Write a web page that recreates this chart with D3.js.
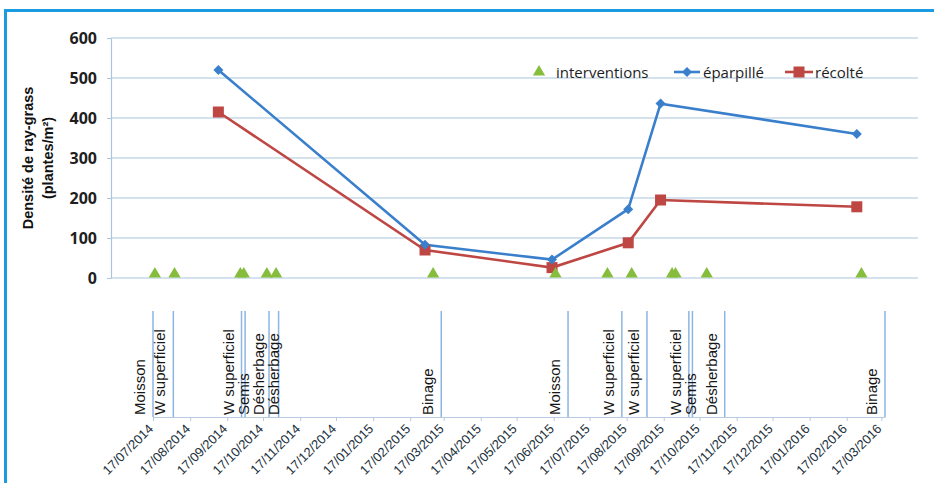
<!DOCTYPE html>
<html>
<head>
<meta charset="utf-8">
<script src="https://cdn.jsdelivr.net/npm/d3@7"></script>
<style>
  body { margin: 0; background: #fff; }
  svg { display: block; font-family: "Liberation Sans", Arial, sans-serif; }
</style>
</head>
<body>
<svg id="chart"></svg>
<script>
const parse = d3.timeParse("%d/%m/%Y");

// measured densities (plants/m2)
const sampleDates = ["10/09/2014", "08/03/2015", "26/06/2015", "31/08/2015", "28/09/2015", "16/03/2016"];
const eparpille = [520, 83, 46, 172, 436, 360];
const recolte = [415, 70, 26, 88, 195, 178];

// field interventions
const eventDates = ["17/07/2014", "03/08/2014", "29/09/2014", "02/10/2014", "22/10/2014", "30/10/2014",
  "15/03/2015", "29/06/2015", "13/08/2015", "03/09/2015", "08/10/2015", "11/10/2015", "07/11/2015", "20/03/2016"];
const eventNames = ["Moisson", "W superficiel", "W superficiel", "Semis", "Désherbage", "Désherbage",
  "Binage", "Moisson", "W superficiel", "W superficiel", "W superficiel", "Semis", "Désherbage", "Binage"];
const interventionValue = 10;

const yTicks = [0, 100, 200, 300, 400, 500, 600];
const monthLabels = ["17/07/2014", "17/08/2014", "17/09/2014", "17/10/2014", "17/11/2014", "17/12/2014",
  "17/01/2015", "17/02/2015", "17/03/2015", "17/04/2015", "17/05/2015", "17/06/2015", "17/07/2015",
  "17/08/2015", "17/09/2015", "17/10/2015", "17/11/2015", "17/12/2015", "17/01/2016", "17/02/2016", "17/03/2016"];

const width = 934, height = 483;
const svg = d3.select("#chart").attr("width", width).attr("height", height);

// outer frame
svg.append("rect")
  .attr("x", 5.5).attr("y", 10.5).attr("width", 1000).attr("height", 1000)
  .attr("fill", "none").attr("stroke", "#1b9be0").attr("stroke-width", 3);

// ---- top chart
const xTop = d3.scaleTime()
  .domain([parse("09/06/2014"), parse("08/05/2016")])
  .range([111, 918]);
const y = d3.scaleLinear().domain([0, 600]).range([278, 38]);

const gridColor = "#aac5dd";

svg.append("g")
  .selectAll("line")
  .data(yTicks)
  .join("line")
  .attr("x1", 111).attr("x2", 918)
  .attr("y1", d => y(d)).attr("y2", d => y(d))
  .attr("stroke", gridColor).attr("stroke-width", 1.2);

const yAxis = svg.append("g")
  .attr("transform", "translate(111,0)")
  .call(d3.axisLeft(y).tickValues(yTicks).tickSize(4).tickPadding(10).tickSizeOuter(0));
yAxis.select(".domain").attr("stroke", gridColor).attr("stroke-width", 1.2);
yAxis.selectAll(".tick line").attr("stroke", gridColor);
yAxis.selectAll(".tick text")
  .attr("font-family", "'Open Sans', sans-serif")
  .attr("font-size", 16).attr("font-weight", "bold").attr("fill", "#1e1e1e");

// y title
const yTitle = svg.append("text")
  .attr("transform", "translate(33,158) rotate(-90)")
  .attr("text-anchor", "middle")
  .attr("font-size", 14.5).attr("font-weight", "bold").attr("fill", "#111");
yTitle.append("tspan").attr("x", 0).attr("dy", 0).text("Densité de ray-grass");
yTitle.append("tspan").attr("x", 0).attr("dy", 20).text("(plantes/m²)");

const blue = "#3a7fcb", red = "#be4744", green = "#86bd3c";

const samples = sampleDates.map((d, i) => ({ date: parse(d), e: eparpille[i], r: recolte[i] }));

const line = key => d3.line().x(d => xTop(d.date)).y(d => y(d[key]));

svg.append("path").datum(samples)
  .attr("d", line("r")).attr("fill", "none")
  .attr("stroke", red).attr("stroke-width", 2.6);
svg.append("path").datum(samples)
  .attr("d", line("e")).attr("fill", "none")
  .attr("stroke", blue).attr("stroke-width", 2.6);

svg.append("g").selectAll("rect")
  .data(samples).join("rect")
  .attr("x", d => xTop(d.date) - 5.5).attr("y", d => y(d.r) - 5.5)
  .attr("width", 11).attr("height", 11).attr("fill", red);

const diamond = d3.symbol().type(d3.symbolDiamond2).size(64);
svg.append("g").selectAll("path")
  .data(samples).join("path")
  .attr("transform", d => `translate(${xTop(d.date)},${y(d.e)})`)
  .attr("d", diamond).attr("fill", blue);

const tri = d3.symbol().type(d3.symbolTriangle).size(65);
const events = eventDates.map((d, i) => ({ date: parse(d), name: eventNames[i] }));
svg.append("g").selectAll("path")
  .data(events).join("path")
  .attr("transform", d => `translate(${xTop(d.date)},${y(interventionValue)})`)
  .attr("d", tri).attr("fill", green);

// legend
const legend = svg.append("g")
  .attr("font-family", "'Open Sans', sans-serif")
  .attr("font-size", 15).attr("fill", "#1e1e1e");
legend.append("path").attr("transform", "translate(539,72)").attr("d", tri).attr("fill", green);
legend.append("text").attr("x", 556).attr("y", 77.5).text("interventions");
legend.append("line").attr("x1", 674).attr("x2", 700).attr("y1", 72).attr("y2", 72)
  .attr("stroke", blue).attr("stroke-width", 2.6);
legend.append("path").attr("transform", "translate(687,72)").attr("d", diamond).attr("fill", blue);
legend.append("text").attr("x", 703).attr("y", 77.5).text("éparpillé");
legend.append("line").attr("x1", 785).attr("x2", 813).attr("y1", 72).attr("y2", 72)
  .attr("stroke", red).attr("stroke-width", 2.6);
legend.append("rect").attr("x", 793.5).attr("y", 66.5).attr("width", 11).attr("height", 11).attr("fill", red);
legend.append("text").attr("x", 815).attr("y", 77.5).text("récolté");

// ---- bottom timeline
const xBot = d3.scaleTime()
  .domain([parse("17/07/2014"), parse("20/03/2016")])
  .range([153, 885]);
const base = 417, lineTop = 311;

const xAxis = svg.append("g")
  .attr("transform", `translate(0,${base})`)
  .call(d3.axisBottom(xBot)
    .tickValues(monthLabels.map(parse))
    .tickFormat(d3.timeFormat("%d/%m/%Y"))
    .tickSize(4).tickSizeOuter(0));
xAxis.select(".domain").attr("stroke", "#b6cbe0").attr("stroke-width", 1.2);
xAxis.selectAll(".tick line").attr("stroke", "#b6cbe0");
xAxis.selectAll(".tick text")
  .attr("font-size", 13).attr("fill", "#22303c")
  .attr("text-anchor", "end")
  .attr("transform", "translate(-9,3) rotate(-45)")
  .attr("x", 0).attr("y", 9).attr("dy", "0.35em");

svg.append("g").selectAll("line")
  .data(events).join("line")
  .attr("x1", d => xBot(d.date)).attr("x2", d => xBot(d.date))
  .attr("y1", lineTop).attr("y2", base)
  .attr("stroke", "#8db5e3").attr("stroke-width", 1.5);

// labels sit left of their line, pushed right when they would overlap
let prev = -Infinity;
const placed = events.map(d => {
  const bx = Math.max(xBot(d.date) - 8, prev + 15);
  prev = bx;
  return { ...d, bx };
});
svg.append("g").selectAll("text")
  .data(placed).join("text")
  .attr("transform", d => `translate(${d.bx},${base - 2}) rotate(-90)`)
  .attr("font-size", 15).attr("fill", "#161616")
  .text(d => d.name);
</script>
</body>
</html>
